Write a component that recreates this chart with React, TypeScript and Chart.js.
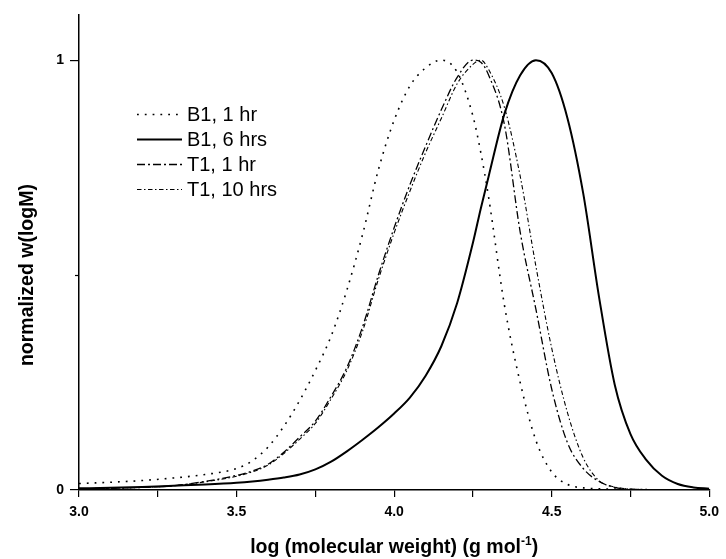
import React, { useEffect, useRef } from "react";
import { Chart, registerables } from "chart.js";

Chart.register(...registerables);

const logM = [3.0, 3.1, 3.2, 3.3, 3.4, 3.5, 3.55, 3.6, 3.65, 3.7, 3.75, 3.8, 3.85, 3.9, 3.95, 4.0, 4.05, 4.1, 4.15, 4.2, 4.25, 4.275, 4.3, 4.35, 4.4, 4.45, 4.5, 4.55, 4.6, 4.65, 4.7, 4.75, 4.8, 4.85, 4.9, 4.95, 5.0];

const b1_1hr = [0.015, 0.018, 0.022, 0.028, 0.036, 0.05, 0.068, 0.1, 0.148, 0.208, 0.278, 0.358, 0.465, 0.595, 0.745, 0.86, 0.94, 0.982, 1.0, 0.972, 0.87, 0.785, 0.68, 0.43, 0.25, 0.115, 0.042, 0.013, 0.005, 0.003, 0.002, 0.001, 0.001, 0, 0, 0, 0];
const b1_6hrs = [0.004, 0.005, 0.007, 0.01, 0.013, 0.017, 0.02, 0.024, 0.029, 0.036, 0.048, 0.066, 0.09, 0.117, 0.146, 0.178, 0.215, 0.266, 0.335, 0.435, 0.575, 0.655, 0.73, 0.875, 0.965, 1.0, 0.97, 0.865, 0.69, 0.45, 0.245, 0.13, 0.07, 0.033, 0.014, 0.006, 0.003];
const t1_1hr = [0.003, 0.004, 0.006, 0.01, 0.02, 0.034, 0.044, 0.06, 0.088, 0.123, 0.16, 0.218, 0.285, 0.38, 0.5, 0.61, 0.71, 0.8, 0.885, 0.96, 1.0, 0.995, 0.965, 0.85, 0.6, 0.42, 0.235, 0.11, 0.05, 0.02, 0.006, 0.002, 0.001, 0, 0, 0, 0];
const t1_10hrs = [0.003, 0.004, 0.006, 0.01, 0.019, 0.032, 0.042, 0.058, 0.085, 0.118, 0.155, 0.212, 0.278, 0.37, 0.49, 0.598, 0.695, 0.785, 0.865, 0.945, 0.99, 1.0, 0.978, 0.89, 0.73, 0.52, 0.33, 0.18, 0.075, 0.022, 0.007, 0.002, 0.001, 0, 0, 0, 0];

const seriesLabels = ["B1, 1 hr", "B1, 6 hrs", "T1, 1 hr", "T1, 10 hrs"];
const xTickValues = [3.0, 3.25, 3.5, 3.75, 4.0, 4.25, 4.5, 4.75, 5.0];
const yTickValues = [0, 1];
const yMinorTicks = [0.5];
const xTitle = "log (molecular weight) (g mol";
const xTitleSup = "-1";
const yTitle = "normalized w(logM)";

const FONT = "'Liberation Sans', Arial, Helvetica, sans-serif";

const styles = [
  { dash: [1.8, 6], width: 1.6 },
  { dash: [], width: 2 },
  { dash: [8, 3, 2, 3], width: 1.3 },
  { dash: [4.5, 2.5, 1.5, 2.5], width: 1.1 },
];

const seriesData = [b1_1hr, b1_6hrs, t1_1hr, t1_10hrs];

const decorPlugin = {
  id: "decor",
  afterDraw(chart: any) {
    const ctx = chart.ctx as CanvasRenderingContext2D;
    const xs = chart.scales.x;
    const ys = chart.scales.y;
    ctx.save();
    ctx.strokeStyle = "#000";
    ctx.lineWidth = 1.2;
    ctx.setLineDash([]);
    yMinorTicks.forEach((v) => {
      const py = Math.round(ys.getPixelForValue(v)) + 0.5;
      ctx.beginPath();
      ctx.moveTo(xs.left - 4, py);
      ctx.lineTo(xs.left, py);
      ctx.stroke();
    });
    // legend
    const lx0 = 137;
    const lx1 = 182;
    const rows = [114, 139, 164, 189];
    ctx.font = `20px ${FONT}`;
    ctx.fillStyle = "#000";
    ctx.textBaseline = "middle";
    ctx.textAlign = "left";
    seriesLabels.forEach((lab, i) => {
      ctx.beginPath();
      ctx.setLineDash(styles[i].dash);
      ctx.lineWidth = styles[i].width;
      ctx.moveTo(lx0, rows[i] + 0.5);
      ctx.lineTo(lx1, rows[i] + 0.5);
      ctx.stroke();
      ctx.setLineDash([]);
      ctx.fillText(lab, 187, rows[i] + 1);
    });
    // x title with superscript
    const mainFont = `bold 19.5px ${FONT}`;
    const supFont = `bold 12px ${FONT}`;
    ctx.font = mainFont;
    const w1 = ctx.measureText(xTitle).width;
    const w3 = ctx.measureText(")").width;
    ctx.font = supFont;
    const w2 = ctx.measureText(xTitleSup).width;
    const total = w1 + w2 + w3;
    const cx = (xs.left + xs.right) / 2;
    let sx = cx - total / 2;
    const by = 553;
    ctx.textBaseline = "alphabetic";
    ctx.font = mainFont;
    ctx.fillText(xTitle, sx, by);
    sx += w1;
    ctx.font = supFont;
    ctx.fillText(xTitleSup, sx, by - 8);
    sx += w2;
    ctx.font = mainFont;
    ctx.fillText(")", sx, by);
    // y title
    ctx.save();
    ctx.translate(28, (ys.getPixelForValue(0) + ys.getPixelForValue(1)) / 2);
    ctx.rotate(-Math.PI / 2);
    ctx.textAlign = "center";
    ctx.textBaseline = "middle";
    ctx.font = mainFont;
    ctx.fillText(yTitle, 0, 0);
    ctx.restore();
    ctx.restore();
  },
};

export default function App() {
  const ref = useRef<HTMLCanvasElement | null>(null);
  useEffect(() => {
    document.body.style.margin = "0";
    if (!ref.current) return;
    const datasets = seriesData.map((arr, i) => ({
      label: seriesLabels[i],
      data: arr.map((v, j) => ({ x: logM[j], y: v })),
      borderColor: "#000",
      backgroundColor: "#000",
      borderWidth: styles[i].width,
      borderDash: styles[i].dash,
      pointRadius: 0,
      fill: false,
      cubicInterpolationMode: "monotone" as const,
    }));
    const chart = new Chart(ref.current, {
      type: "line",
      data: { datasets },
      plugins: [decorPlugin],
      options: {
        animation: false,
        responsive: false,
        maintainAspectRatio: false,
        layout: { padding: { top: 15, right: 14, left: 0, bottom: 0 } },
        plugins: { legend: { display: false }, tooltip: { enabled: false } },
        scales: {
          x: {
            type: "linear",
            min: 3,
            max: 5,
            afterBuildTicks: (s: any) => {
              s.ticks = xTickValues.map((v) => ({ value: v }));
            },
            afterFit: (s: any) => {
              s.height = 69;
            },
            ticks: {
              autoSkip: false,
              maxRotation: 0,
              color: "#000",
              padding: 7,
              font: { family: FONT, size: 14, weight: "bold" },
              callback: (v: any) => {
                const n = Number(v);
                return Math.abs(n * 2 - Math.round(n * 2)) < 1e-6 ? n.toFixed(1) : "";
              },
            },
            grid: { drawOnChartArea: false, drawTicks: true, tickLength: 7, color: "#000", lineWidth: 1.2 },
            border: { display: true, color: "#000", width: 1.5 },
          },
          y: {
            type: "linear",
            min: 0,
            max: 1.105,
            afterBuildTicks: (s: any) => {
              s.ticks = yTickValues.map((v) => ({ value: v }));
            },
            afterFit: (s: any) => {
              s.width = 79;
            },
            ticks: {
              color: "#000",
              padding: 6,
              font: { family: FONT, size: 14, weight: "bold" },
              callback: (v: any) => String(v),
            },
            grid: { drawOnChartArea: false, drawTicks: true, tickLength: 9, color: "#000", lineWidth: 1.2 },
            border: { display: true, color: "#000", width: 1.5 },
          },
        },
      },
    } as any);
    return () => chart.destroy();
  }, []);
  return (
    <div style={{ width: 726, height: 559, position: "relative", background: "#fff" }}>
      <canvas ref={ref} width={726} height={559} style={{ width: 726, height: 559, display: "block" }} />
    </div>
  );
}
